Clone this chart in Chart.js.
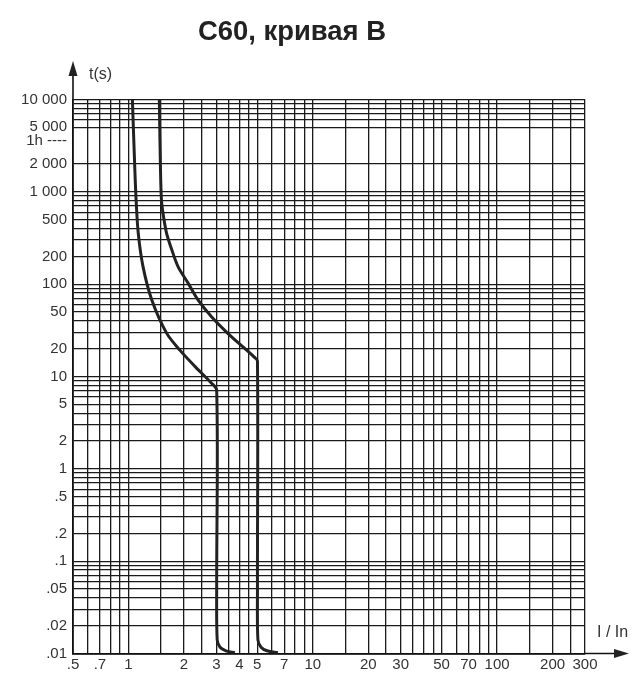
<!DOCTYPE html>
<html>
<head>
<meta charset="utf-8">
<script src="https://cdn.jsdelivr.net/npm/chart.js@4"></script>
<style>
  html, body { margin: 0; padding: 0; background: #fff; }
  #wrap { width: 633px; height: 674px; }
</style>
</head>
<body>
<div id="wrap"><canvas id="chart"></canvas></div>
<script>
const chartTitle = 'C60, кривая B'

// curve readings: I/In and t(s)
const lowerI = [1.05, 1.08, 1.10, 1.13, 1.20, 1.34, 1.61, 1.90, 2.30, 2.80, 3.01, 3.01, 3.03, 3.14, 3.38, 3.78]
const lowerT = [10000, 2000, 815, 355, 154, 67, 29.5, 19.3, 12.8, 8.6, 7.1, 0.05, 0.014, 0.0117, 0.0107, 0.0102]
const upperI = [1.47, 1.49, 1.51, 1.55, 1.61, 1.72, 1.86, 2.11, 2.39, 2.83, 3.48, 4.38, 4.85, 5.01, 5.01, 5.04, 5.24, 5.65, 6.47]
const upperT = [10000, 1950, 815, 537, 355, 234, 154, 102, 67, 44, 29, 19.3, 16, 14.7, 0.05, 0.014, 0.0117, 0.0107, 0.0102]

// x axis: grid lines and labelled ticks
const xGrid = [0.5, 0.6, 0.7, 0.8, 0.9, 1, 1.5, 2, 2.5, 3, 3.5, 4, 4.5, 5, 6, 7, 8, 9,
  10, 15, 20, 25, 30, 35, 40, 45, 50, 60, 70, 80, 90, 100, 150, 200, 250, 300]
const xTickValues = [0.5, 0.7, 1, 2, 3, 4, 5, 7, 10, 20, 30, 50, 70, 100, 200, 300]
const xTickLabels = ['.5', '.7', '1', '2', '3', '4', '5', '7', '10', '20', '30', '50', '70', '100', '200', '300']

// y axis: grid lines and labelled ticks
const yGrid = [10000, 9000, 8000, 7000, 6000, 5000, 2000,
  1000, 900, 800, 700, 600, 500, 400, 300, 200,
  100, 90, 80, 70, 60, 50, 40, 30, 20,
  10, 9, 8, 7, 6, 5, 4, 3, 2,
  1, 0.9, 0.8, 0.7, 0.6, 0.5, 0.4, 0.3, 0.2,
  0.1, 0.09, 0.08, 0.07, 0.06, 0.05, 0.04, 0.03, 0.02, 0.01]
const yTickValues = [10000, 5000, 3600, 2000, 1000, 500, 200, 100, 50, 20, 10, 5, 2, 1, 0.5, 0.2, 0.1, 0.05, 0.02, 0.01]
const yTickLabels = ['10 000', '5 000', '1h ----', '2 000', '1 000', '500', '200', '100', '50', '20', '10', '5', '2', '1', '.5', '.2', '.1', '.05', '.02', '.01']

const toPoints = (xs, ys) => xs.map((x, i) => ({ x: x, y: ys[i] }))

const labelFont = { family: '"Liberation Sans", Arial, sans-serif', size: 15 }
const gridColor = '#1a1a1a'

const decorations = {
  id: 'decorations',
  afterDraw(chart) {
    const ctx = chart.ctx
    const area = chart.chartArea
    ctx.save()
    ctx.fillStyle = '#222'
    ctx.strokeStyle = '#111'
    ctx.lineWidth = 1.6

    // title, squeezed to the reference width
    ctx.font = 'bold 28px "Liberation Sans", Arial, sans-serif'
    ctx.textBaseline = 'alphabetic'
    ctx.textAlign = 'left'
    const w = ctx.measureText(chartTitle).width
    const target = 188
    ctx.save()
    ctx.translate(198, 40)
    ctx.scale(target / w, 1)
    ctx.fillText(chartTitle, 0, 0)
    ctx.restore()

    // y axis arrow
    ctx.beginPath()
    ctx.moveTo(area.left, area.top)
    ctx.lineTo(area.left, 70)
    ctx.stroke()
    ctx.beginPath()
    ctx.moveTo(area.left, 61)
    ctx.lineTo(area.left - 4.5, 76)
    ctx.lineTo(area.left + 4.5, 76)
    ctx.closePath()
    ctx.fill()

    // x axis arrow
    ctx.beginPath()
    ctx.moveTo(area.right, area.bottom)
    ctx.lineTo(618, area.bottom)
    ctx.stroke()
    ctx.beginPath()
    ctx.moveTo(629, area.bottom)
    ctx.lineTo(614, area.bottom - 4.5)
    ctx.lineTo(614, area.bottom + 4.5)
    ctx.closePath()
    ctx.fill()

    // axis names
    ctx.fillStyle = '#333'
    ctx.font = '16px "Liberation Sans", Arial, sans-serif'
    ctx.textBaseline = 'middle'
    ctx.fillText('t(s)', 89, 75)
    ctx.fillText('I / In', 597, 633)
    ctx.restore()
  }
}

new Chart(document.getElementById('chart'), {
  type: 'line',
  data: {
    datasets: [
      { data: toPoints(lowerI, lowerT), borderColor: '#222', borderWidth: 3, pointRadius: 0, tension: 0.3, fill: false },
      { data: toPoints(upperI, upperT), borderColor: '#222', borderWidth: 3, pointRadius: 0, tension: 0.3, fill: false }
    ]
  },
  options: {
    responsive: true,
    maintainAspectRatio: false,
    animation: false,
    layout: { padding: { top: 99.5, right: 48, bottom: 0, left: 0 } },
    plugins: {
      legend: { display: false },
      tooltip: { enabled: false },
      title: { display: false }
    },
    scales: {
      x: {
        type: 'logarithmic',
        min: 0.5,
        max: 300,
        afterBuildTicks: s => { s.ticks = xGrid.map(v => ({ value: v })) },
        afterFit: s => { s.height = 20.5 },
        ticks: {
          autoSkip: false,
          maxRotation: 0,
          padding: 2,
          color: '#333',
          font: labelFont,
          callback: v => {
            const i = xTickValues.indexOf(v)
            return i >= 0 ? xTickLabels[i] : ''
          }
        },
        grid: { color: gridColor, lineWidth: 1.3, drawTicks: false },
        border: { color: '#111', width: 1.8 }
      },
      y: {
        type: 'logarithmic',
        min: 0.01,
        max: 10000,
        afterBuildTicks: s => { s.ticks = yGrid.concat([3600]).map(v => ({ value: v })) },
        afterFit: s => { s.width = 73 },
        ticks: {
          autoSkip: false,
          padding: 6,
          color: '#333',
          font: labelFont,
          callback: v => {
            const i = yTickValues.indexOf(v)
            return i >= 0 ? yTickLabels[i] : ''
          }
        },
        grid: {
          color: c => (c.tick && c.tick.value === 3600) ? 'rgba(0,0,0,0)' : gridColor,
          lineWidth: 1.3,
          drawTicks: false
        },
        border: { color: '#111', width: 1.8 }
      }
    }
  },
  plugins: [decorations]
})
</script>
</body>
</html>
